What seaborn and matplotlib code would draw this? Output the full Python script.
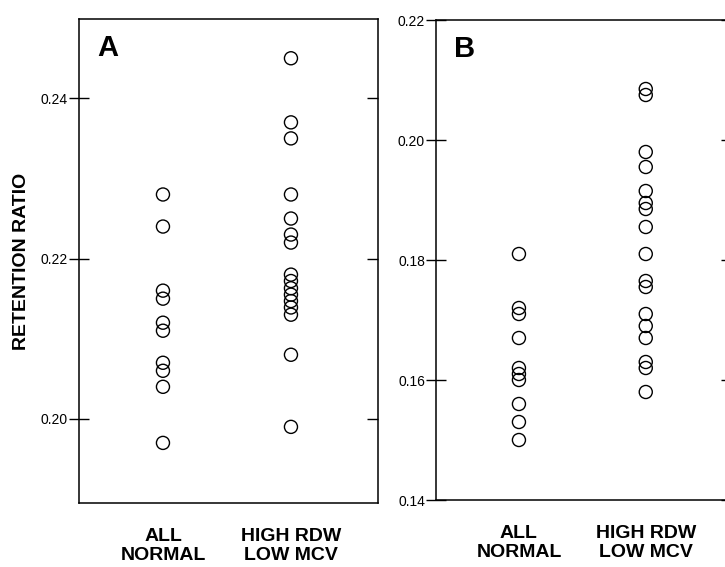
import numpy as np
import pandas as pd
import seaborn as sns
import matplotlib.pyplot as plt

# valores
groups = ["ALL\nNORMAL", "HIGH RDW\nLOW MCV"]

a_normal = [0.228, 0.224, 0.216, 0.215, 0.212, 0.211, 0.207, 0.206, 0.204, 0.197]
a_high = [0.245, 0.237, 0.235, 0.228, 0.225, 0.223, 0.222,
          0.218, 0.2172, 0.2163, 0.2155, 0.2147, 0.2139, 0.213,
          0.208, 0.199]

b_normal = [0.181, 0.172, 0.171, 0.167, 0.162, 0.161, 0.160, 0.156, 0.153, 0.150]
b_high = [0.2085, 0.2075, 0.198, 0.1955, 0.1915, 0.1895, 0.1885, 0.1855, 0.181,
          0.1765, 0.1755, 0.171, 0.169, 0.167, 0.163, 0.162, 0.158]

a_ticks = [0.20, 0.22, 0.24]
b_ticks = [0.14, 0.16, 0.18, 0.20, 0.22]

df_a = pd.DataFrame({"grupo": [groups[0]] * len(a_normal) + [groups[1]] * len(a_high),
                     "valor": a_normal + a_high})
df_b = pd.DataFrame({"grupo": [groups[0]] * len(b_normal) + [groups[1]] * len(b_high),
                     "valor": b_normal + b_high})

sns.set_style("white")
plt.rcParams['font.family'] = ['Liberation Sans', 'DejaVu Sans']
plt.rcParams['text.color'] = 'black'
plt.rcParams['xtick.color'] = 'black'
plt.rcParams['ytick.color'] = 'black'
plt.rcParams['axes.labelcolor'] = 'black'

fig = plt.figure(figsize=(7.25, 5.67), dpi=100)
ax_a = fig.add_axes([79 / 725, 64 / 567, 299 / 725, 484 / 567])
ax_b = fig.add_axes([436 / 725, 67 / 567, 296 / 725, 480 / 567])

def painel(ax, df, ticks, ylim, xlim, letra):
    sns.stripplot(data=df, x="grupo", y="valor", order=groups, jitter=False,
                  size=9.4, color="black", linewidth=1.0, ax=ax)
    for c in ax.collections:
        c.set_facecolor("none")
        c.set_edgecolor("black")
    ax.set_ylim(*ylim)
    ax.set_xlim(*xlim)
    ax.set_yticks(ticks)
    ax.set_yticklabels([f"{t:.2f}" for t in ticks])
    ax.set_xlabel("")
    ax.set_ylabel("")
    for s in ax.spines.values():
        s.set_visible(True)
        s.set_color("black")
        s.set_linewidth(1.1)
    ax.tick_params(axis="y", which="both", direction="inout", length=14, width=1,
                   labelsize=10, left=True, right=False, pad=1)
    ax.tick_params(axis="x", length=0, labelsize=14, pad=18)
    for lab in ax.get_xticklabels():
        lab.set_fontweight("bold")
        lab.set_linespacing(1.12)
    # ticks internos do lado direito
    sec = ax.secondary_yaxis("right")
    sec.set_yticks(ticks)
    sec.set_yticklabels([])
    sec.tick_params(direction="in", length=8, width=1)
    sec.spines["right"].set_visible(False)
    ax.text(0.06, 0.94, letra, transform=ax.transAxes, fontsize=21,
            fontweight="bold", va="center", ha="left")

painel(ax_a, df_a, a_ticks, (0.1895, 0.2499), (-0.656, 1.68), "A")
painel(ax_b, df_b, b_ticks, (0.14, 0.22), (-0.654, 1.68), "B")

ax_a.set_ylabel("RETENTION RATIO", fontsize=14, fontweight="bold", labelpad=8)

fig.savefig("out.png", dpi=100)
